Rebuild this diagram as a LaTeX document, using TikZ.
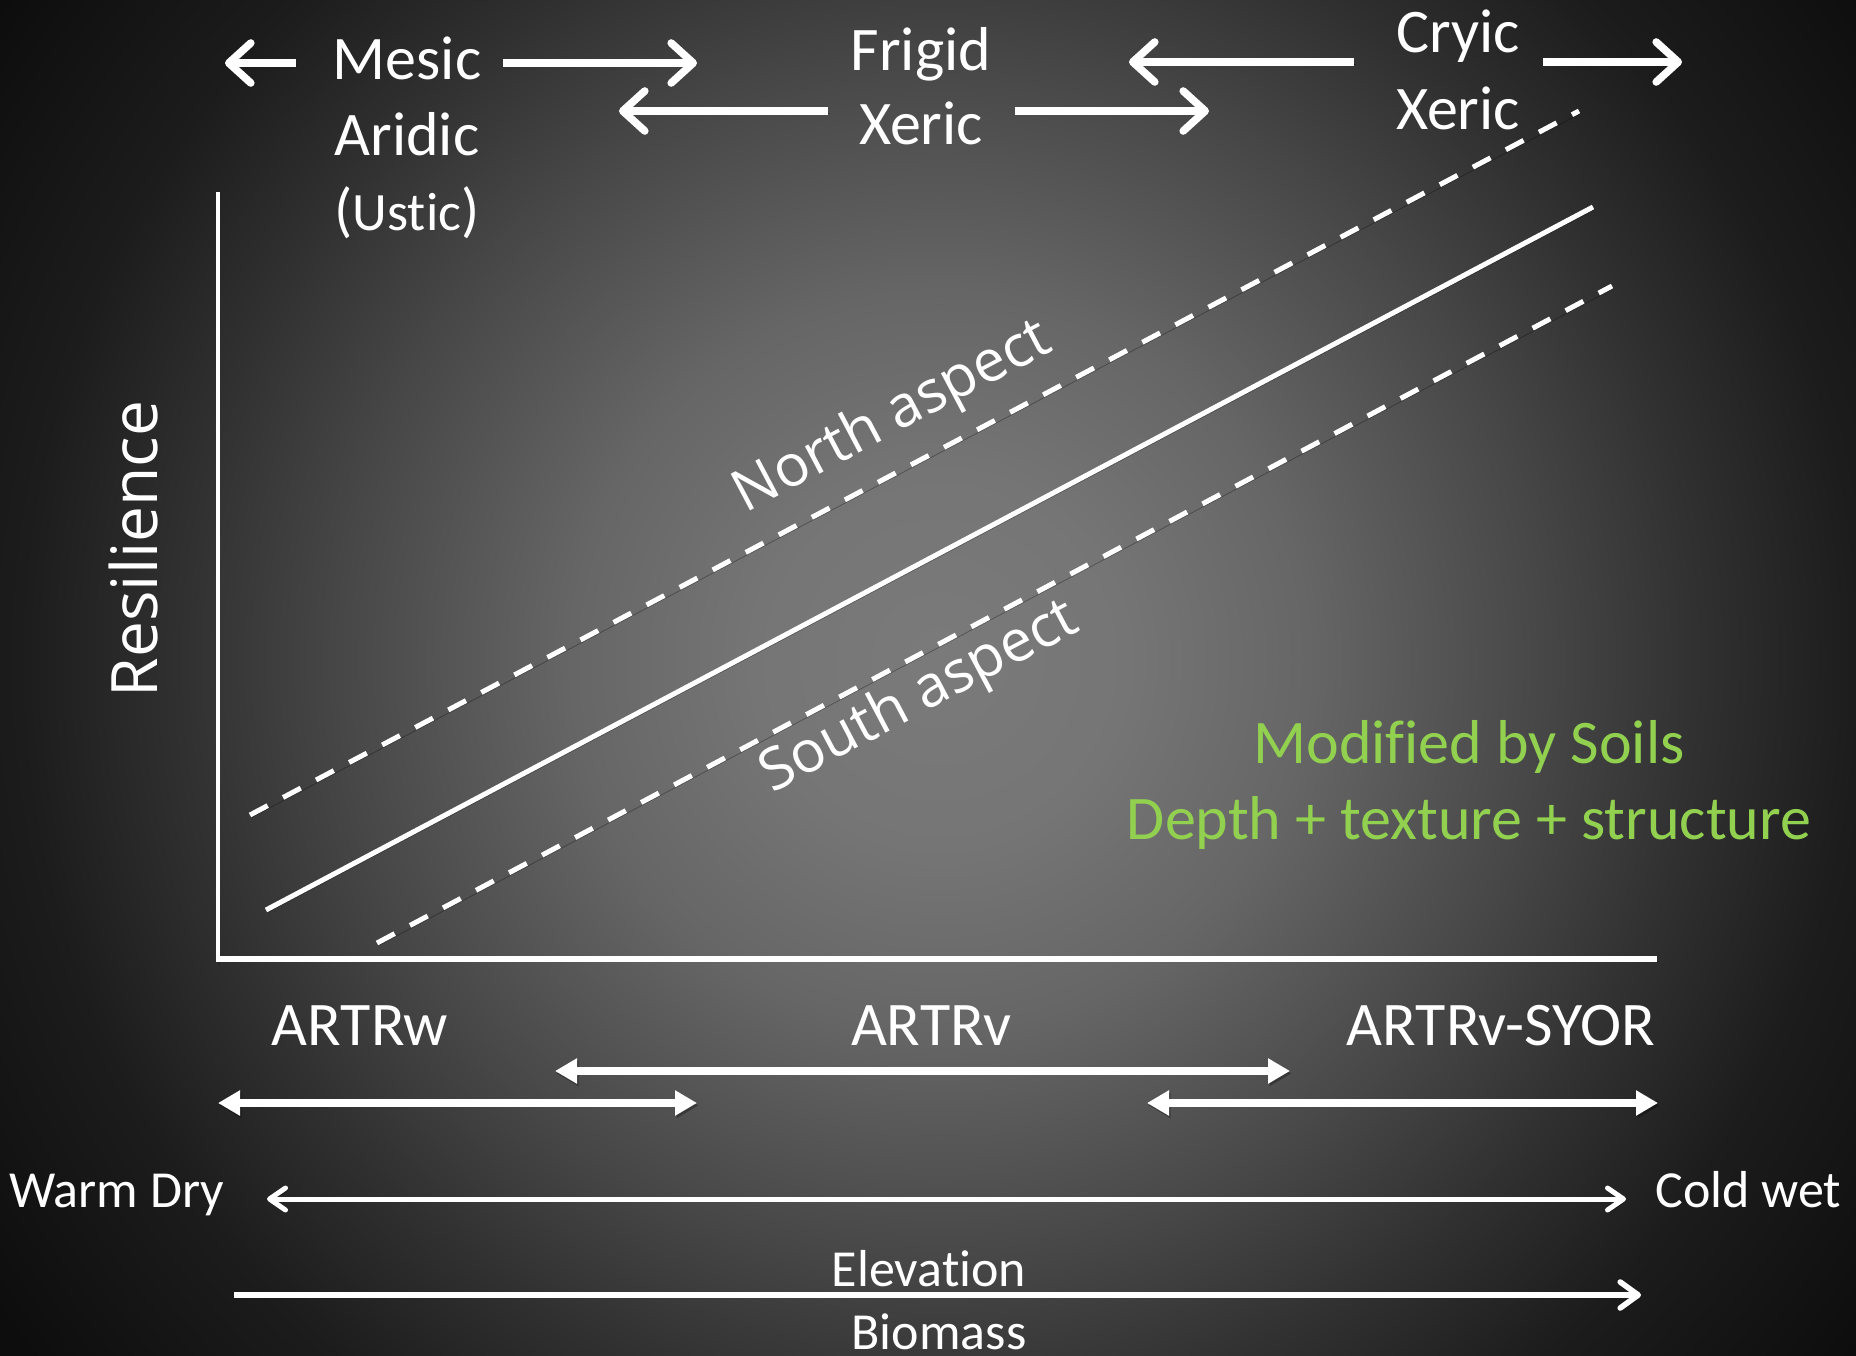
\documentclass[tikz,border=0pt]{standalone}
\usepackage{fontspec}
\setmainfont{Carlito}[Ligatures={NoCommon,NoContextual}]
\newfontfamily\aspectfont{Open Sans}[Ligatures={NoCommon,NoContextual}]
\usetikzlibrary{arrows.meta}

\definecolor{soilgreen}{HTML}{92D050}
\definecolor{bgA}{gray}{0.48}
\definecolor{bgB}{gray}{0.46}
\definecolor{bgC}{gray}{0.40}
\definecolor{bgD}{gray}{0.28}
\definecolor{bgE}{gray}{0.19}
\definecolor{bgF}{gray}{0.11}
\definecolor{bgG}{gray}{0.05}

% dark backdrop, brightest in the middle (25bp = half the shaded square)
\pgfdeclareradialshading{bgglow}{\pgfpoint{0bp}{0bp}}{%
  color(0bp)=(bgA); color(4bp)=(bgB); color(8bp)=(bgC); color(13bp)=(bgD);
  color(16.5bp)=(bgE); color(20bp)=(bgF); color(25bp)=(bgG); color(50bp)=(bgG)}

\begin{document}
\begin{tikzpicture}[x=0.5pt,y=-0.5pt,
  bigtext/.style={text=white,font=\fontsize{31}{36}\selectfont,inner sep=0pt,anchor=base},
  smalltext/.style={text=white,font=\fontsize{26}{31}\selectfont,inner sep=0pt,anchor=base},
  soiltext/.style={text=soilgreen,font=\fontsize{31}{36}\selectfont,inner sep=0pt,anchor=base},
  aspecttext/.style={text=white,font=\aspectfont\fontsize{29}{34}\selectfont,inner sep=0pt,rotate=27.9},
  shadowed/.style={preaction={draw=black,opacity=0.3,transform canvas={shift={(0.8pt,-1.2pt)}}}},
  regimearrow/.style={draw=white,line width=3.8pt,shadowed,-{Straight Barb[length=11pt,width=20pt,round]}},
  spanarrow/.style={draw=white,fill=white,line width=3.6pt,shadowed,
    {Triangle[length=11pt,width=12pt]}-{Triangle[length=11pt,width=12pt]}},
  climarrow/.style={draw=white,line width=2.5pt,shadowed,
    {Straight Barb[length=8pt,width=11pt,round]}-{Straight Barb[length=8pt,width=11pt,round]}},
  elevarrow/.style={draw=white,line width=2.8pt,shadowed,-{Straight Barb[length=9pt,width=13pt,round]}},
  axisline/.style={draw=white,shadowed},
  trendline/.style={draw=white,line width=2.5pt,shadowed},
  aspectline/.style={trendline,dash pattern=on 10pt off 8.7pt}
]
\useasboundingbox (0,0) rectangle (1856,1355);
\begin{scope}
  \clip (0,0) rectangle (1856,1355);
  \shade[shading=bgglow] (-210,-490) rectangle (2090,1810);
\end{scope}

% soil temperature / moisture regimes
\node[bigtext] (mesic)  at (407,79)  {Mesic};
\node[bigtext] (aridic) at (407,155) {Aridic};
\node[bigtext] (ustic)  at (407,230) {{\fontsize{30}{34}\selectfont(}{\fontsize{27}{32}\selectfont Ustic}{\fontsize{30}{34}\selectfont)}};
\node[bigtext] (frigid) at (921,70)  {Frigid};
\node[bigtext] (xericA) at (921,144) {Xeric};
\node[bigtext] (cryic)  at (1458,52) {Cryic};
\node[bigtext] (xericB) at (1458,129) {Xeric};

\coordinate (mL0) at (296,63);  \coordinate (mL1) at (225,63);
\coordinate (mR0) at (503,63);  \coordinate (mR1) at (697,63);
\coordinate (fL0) at (828,111); \coordinate (fL1) at (619,111);
\coordinate (xR0) at (1015,111); \coordinate (xR1) at (1209,111);
\coordinate (cL0) at (1354,62); \coordinate (cL1) at (1129,62);
\coordinate (cR0) at (1543,62); \coordinate (cR1) at (1682,62);
\draw[regimearrow] (mL0) -- (mL1);
\draw[regimearrow] (mR0) -- (mR1);
\draw[regimearrow] (fL0) -- (fL1);
\draw[regimearrow] (xR0) -- (xR1);
\draw[regimearrow] (cL0) -- (cL1);
\draw[regimearrow] (cR0) -- (cR1);

% axes
\coordinate (ytop) at (218,192);
\coordinate (origin) at (218,959);
\coordinate (xend) at (1657,959);
\draw[axisline,line width=2.4pt] (ytop) -- ([yshift=-1.6pt]origin);
\draw[axisline,line width=3.2pt] ([xshift=-1.2pt]origin) -- (xend);
\node[text=white,font=\aspectfont\fontsize{32}{38}\selectfont,inner sep=0pt,rotate=90,anchor=base]
  (resilience) at (157,549) {Resilience};

% resilience trends
\coordinate (s0) at (266,910);  \coordinate (s1) at (1593,207);
\coordinate (n0) at (250,815);  \coordinate (n1) at (1579,111);
\coordinate (d0) at (377,943);  \coordinate (d1) at (1612,286);
\draw[trendline] (s0) -- (s1);
\draw[aspectline] (n0) -- (n1);
\draw[aspectline] (d0) -- (d1);
\node[aspecttext] (north) at (893,418) {North aspect};
\node[aspecttext] (south) at (920,698) {South aspect};

\node[soiltext] (modified) at (1469,763) {Modified by Soils};
\node[soiltext] (depth)    at (1469,839) {Depth + texture + structure};

% vegetation types along the gradient
\node[bigtext] (artrw)  at (360,1045)  {ARTRw};
\node[bigtext] (artrv)  at (931,1045)  {ARTRv};
\node[bigtext] (artrvs) at (1501,1045) {ARTRv-SYOR};

\coordinate (v0) at (555,1071);  \coordinate (v1) at (1290,1071);
\coordinate (w0) at (218,1103);  \coordinate (w1) at (697,1103);
\coordinate (y0) at (1147,1103); \coordinate (y1) at (1658,1103);
\draw[spanarrow] (v0) -- (v1);
\draw[spanarrow] (w0) -- (w1);
\draw[spanarrow] (y0) -- (y1);

\node[smalltext,anchor=base west] (warm) at (9,1207)    {Warm Dry};
\node[smalltext,anchor=base west] (cold) at (1655,1207) {Cold wet};
\coordinate (g0) at (267,1199); \coordinate (g1) at (1626,1199);
\draw[climarrow] (g0) -- (g1);

\node[smalltext] (elevation) at (929,1286) {Elevation};
\node[smalltext] (biomass)   at (939,1349) {Biomass};
\coordinate (e0) at (234,1295); \coordinate (e1) at (1641,1295);
\draw[elevarrow] (e0) -- (e1);
\end{tikzpicture}
\end{document}
